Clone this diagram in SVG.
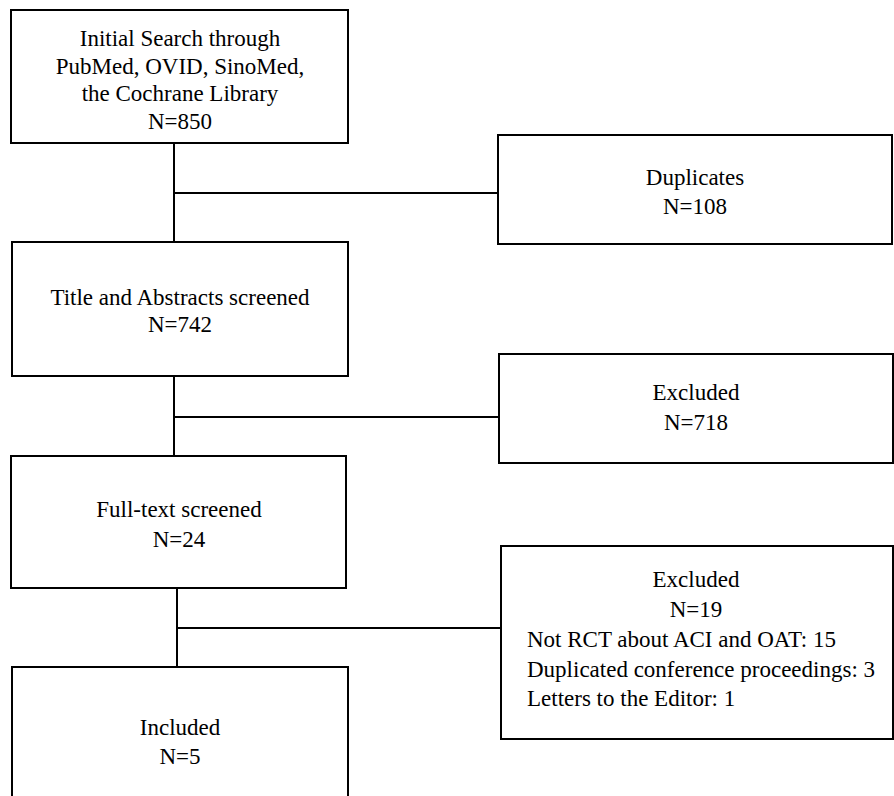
<svg xmlns="http://www.w3.org/2000/svg" width="894" height="796" viewBox="0 0 894 796">
<style>
.box{fill:#fff;stroke:#000;stroke-width:2}
.ln{fill:none;stroke:#000;stroke-width:2}
text{font-family:"Liberation Serif","Times New Roman",serif;font-size:23px;fill:#000}
.c{text-anchor:middle}
</style>
<rect width="894" height="796" fill="#fff"/>
<g id="connectors">
<path class="ln" d="M174,143 V242 M174,193 H498"/>
<path class="ln" d="M174,376 V456 M174,417 H499"/>
<path class="ln" d="M177,588 V667 M177,628 H501"/>
</g>
<g id="n1">
<rect class="box" x="11" y="10" width="337" height="133"/>
<text class="c" x="180" y="46">Initial Search through</text>
<text class="c" x="180" y="73.5">PubMed, OVID, SinoMed,</text>
<text class="c" x="180" y="101">the Cochrane Library</text>
<text class="c" x="180" y="128.5">N=850</text>
</g>
<g id="n2">
<rect class="box" x="498" y="135" width="394" height="109"/>
<text class="c" x="695" y="185">Duplicates</text>
<text class="c" x="695" y="214">N=108</text>
</g>
<g id="n3">
<rect class="box" x="12" y="242" width="336" height="134"/>
<text class="c" x="180" y="305">Title and Abstracts screened</text>
<text class="c" x="180" y="332">N=742</text>
</g>
<g id="n4">
<rect class="box" x="499" y="354" width="394" height="109"/>
<text class="c" x="696" y="400">Excluded</text>
<text class="c" x="696" y="430">N=718</text>
</g>
<g id="n5">
<rect class="box" x="11" y="456" width="335" height="132"/>
<text class="c" x="179" y="517">Full-text screened</text>
<text class="c" x="179" y="547">N=24</text>
</g>
<g id="n6">
<rect class="box" x="501" y="546" width="392" height="193"/>
<text class="c" x="696" y="587">Excluded</text>
<text class="c" x="696" y="617">N=19</text>
<text x="527" y="647">Not RCT about ACI and OAT: 15</text>
<text x="527" y="677">Duplicated conference proceedings: 3</text>
<text x="527" y="706">Letters to the Editor: 1</text>
</g>
<g id="n7">
<rect class="box" x="12" y="667" width="336" height="140"/>
<text class="c" x="180" y="735">Included</text>
<text class="c" x="180" y="764">N=5</text>
</g>
</svg>
